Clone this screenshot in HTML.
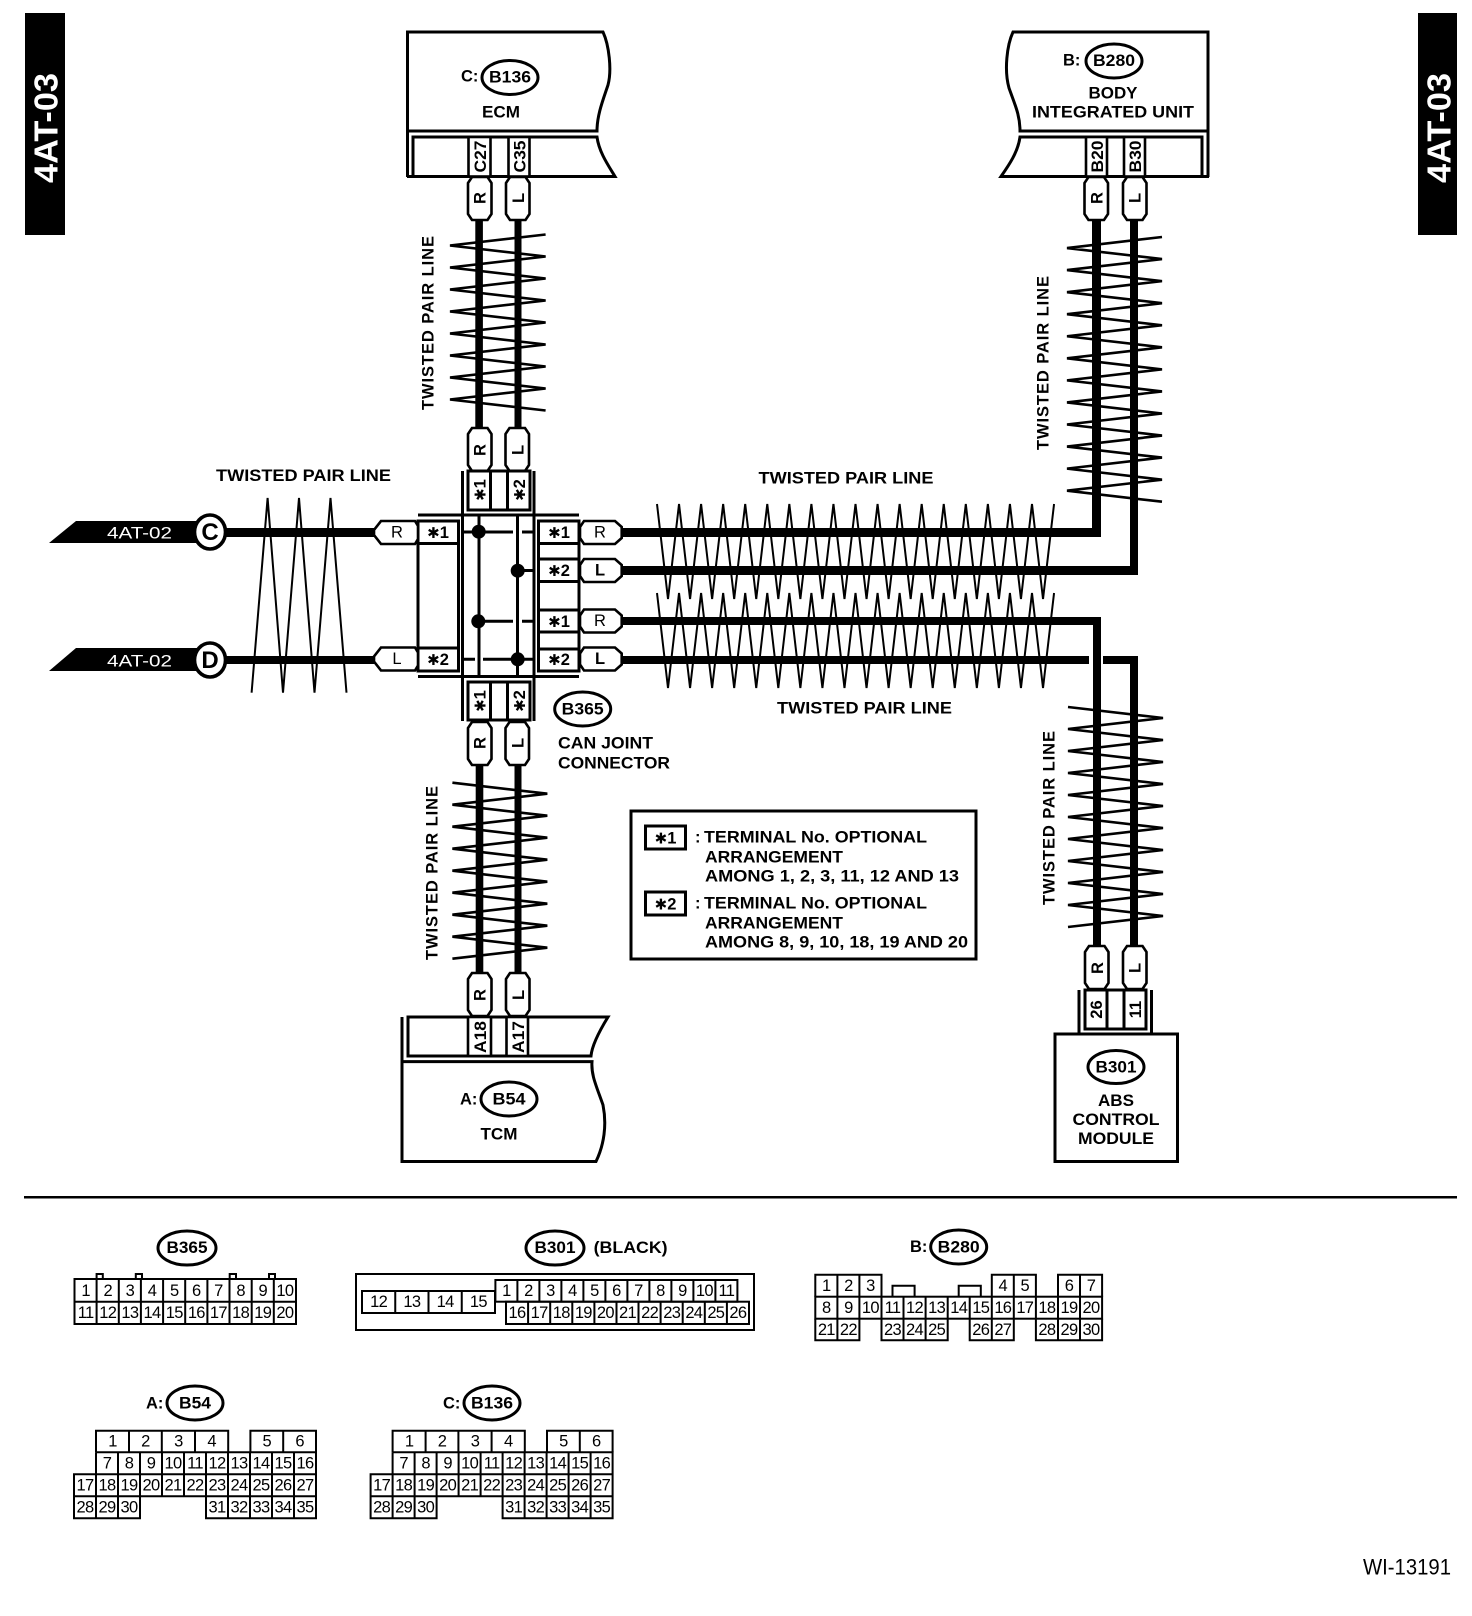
<!DOCTYPE html>
<html><head><meta charset="utf-8"><style>
html,body{margin:0;padding:0;background:#fff}
svg{display:block}
text{font-family:"Liberation Sans",sans-serif;font-weight:bold;font-size:16.5px;fill:#000;dominant-baseline:central}
.m{text-anchor:middle}
text.n{font-weight:normal;font-size:16.5px;text-anchor:middle;letter-spacing:-.7px;dominant-baseline:central}
.s{font-family:"DejaVu Sans",sans-serif;font-size:15px}
.ln{fill:none;stroke:#000;stroke-width:3}
.g{fill:none;stroke:#000;stroke-width:2}
.z{fill:none;stroke:#000;stroke-width:2.6}
.t{fill:none;stroke:#000;stroke-width:2}
.w{fill:#fff;stroke:#000;stroke-width:2.6}
.o{fill:#fff;stroke:#000;stroke-width:3}
</style></head><body>
<svg xmlns="http://www.w3.org/2000/svg" width="1472" height="1616" viewBox="0 0 1472 1616">
<defs>
<polygon id="pv" points="4,0 19.5,0 23.5,6 23.5,37 19.5,43 4,43 0,37 0,6" class="w"/>
<polygon id="pr" points="4,0 35,0 41.7,6 41.7,17 35,23 4,23 0,17 0,6" class="w"/>
<polygon id="pl" points="7,0 41,0 44,5 44,18 41,23 7,23 0,14 0,9" class="w"/>
<path id="hz" class="t" d="M657 0l11 95l11.03-95l11.03 95l11.03-95l11.03 95l11.03-95l11.03 95l11.03-95l11.03 95l11.03-95l11.03 95l11.03-95l11.03 95l11.03-95l11.03 95l11.03-95l11.03 95l11.03-95l11.03 95l11.03-95l11.03 95l11.03-95l11.03 95l11.03-95l11.03 95l11.03-95l11.03 95l11.03-95l11.03 95l11.03-95l11.03 95l11.03-95l11.03 95l11.03-95l11.03 95l11.03-95"/>
</defs>
<rect width="1472" height="1616" fill="#fff"/>

<!-- side tabs -->
<rect x="25" y="13" width="40" height="222" fill="#000"/>
<rect x="1418" y="13" width="39" height="222" fill="#000"/>
<text class="m" transform="rotate(-90 46 128)" x="46" y="128" style="fill:#fff;font-size:33px" textLength="110" lengthAdjust="spacingAndGlyphs">4AT-03</text>
<text class="m" transform="rotate(-90 1439 128)" x="1439" y="128" style="fill:#fff;font-size:33px" textLength="110" lengthAdjust="spacingAndGlyphs">4AT-03</text>

<!-- twisted zigzags -->
<path class="z" d="M545.6 234.5l-95.6 11l95.6 11l-95.6 11l95.6 11l-95.6 11l95.6 11l-95.6 11l95.6 11l-95.6 11l95.6 11l-95.6 11l95.6 11l-95.6 11l95.6 11l-95.6 11l95.6 11"/>
<path class="z" d="M1162 237l-95 11.03l95 11.03l-95 11.03l95 11.03l-95 11.03l95 11.03l-95 11.03l95 11.03l-95 11.03l95 11.03l-95 11.03l95 11.03l-95 11.03l95 11.03l-95 11.03l95 11.03l-95 11.03l95 11.03l-95 11.03l95 11.03l-95 11.03l95 11.03l-95 11.03l95 11.03"/>
<path class="z" d="M1068 707l95 11l-95 11l95 11l-95 11l95 11l-95 11l95 11l-95 11l95 11l-95 11l95 11l-95 11l95 11l-95 11l95 11l-95 11l95 11l-95 11l95 11l-95 11"/>
<path class="z" d="M452.4 782.7l94.9 11l-94.9 11l94.9 11l-94.9 11l94.9 11l-94.9 11l94.9 11l-94.9 11l94.9 11l-94.9 11l94.9 11l-94.9 11l94.9 11l-94.9 11l94.9 11l-94.9 11"/>
<path class="t" d="M251.6 692.7L267.6 498L283 692.7L299 498L314.5 692.7L330.5 498L346.5 692.7"/>
<use href="#hz" y="504"/>
<use href="#hz" y="593"/>

<!-- thick wires -->
<g fill="#000">
<rect x="475.3" y="218" width="7.6" height="211"/>
<rect x="514.5" y="218" width="7" height="211"/>
<rect x="475.7" y="763" width="7.6" height="211"/>
<rect x="514.5" y="763" width="7" height="211"/>
<rect x="224" y="528" width="152" height="9"/>
<rect x="224" y="656" width="152" height="8"/>
<rect x="620" y="528" width="481" height="9"/>
<rect x="620" y="566" width="518" height="9"/>
<rect x="620" y="617" width="481" height="8"/>
<rect x="620" y="656" width="469" height="8"/>
<rect x="1103" y="656" width="35" height="8"/>
<rect x="1092" y="218" width="9" height="319"/>
<rect x="1130" y="218" width="8" height="357"/>
<rect x="1093" y="617" width="8" height="331"/>
<rect x="1130" y="656" width="8" height="292"/>
</g>

<!-- ECM -->
<path class="o" d="M407.5 177V32H603C609 45 612 70 608 85C603 100 597 115 597 131H407.5Z"/>
<path class="ln" d="M407.5 131V177M413 176.5V137H597C599 152 608 165 615 176.5H407"/>
<text x="461" y="76.7">C:</text>
<ellipse cx="510" cy="77.5" rx="28" ry="17" class="o"/>
<text class="m" x="510" y="77.7" textLength="42" lengthAdjust="spacingAndGlyphs">B136</text>
<text class="m" x="501" y="112.7" textLength="38" lengthAdjust="spacingAndGlyphs">ECM</text>
<rect x="468.5" y="137" width="22" height="39.5" class="w"/>
<rect x="508.5" y="137" width="21" height="39.5" class="w"/>
<text class="m" transform="rotate(-90 479.5 156.5)" x="479.5" y="156.5" dy="1.5" textLength="32" lengthAdjust="spacingAndGlyphs">C27</text>
<text class="m" transform="rotate(-90 519 156.5)" x="519" y="156.5" dy="1.5" textLength="32" lengthAdjust="spacingAndGlyphs">C35</text>
<use href="#pv" x="468" y="177"/><use href="#pv" x="506" y="177"/>
<text class="m" transform="rotate(-90 479.5 198)" x="479.5" y="198" dy="1">R</text>
<text class="m" transform="rotate(-90 518 198)" x="518" y="198" dy="1">L</text>
<use href="#pv" x="468" y="428"/><use href="#pv" x="505.5" y="428"/>
<text class="m" transform="rotate(-90 479.5 450)" x="479.5" y="450" dy="1">R</text>
<text class="m" transform="rotate(-90 517.5 450)" x="517.5" y="450" dy="1">L</text>

<!-- BIU -->
<path class="o" d="M1208 177V32H1013C1007 45 1004 70 1009 88C1015 105 1020 115 1020 131H1208Z"/>
<path class="ln" d="M1208 131V177M1202 176.5V137H1020C1018 152 1009 165 1001 176.5H1209"/>
<text x="1063" y="60.7">B:</text>
<ellipse cx="1114" cy="61" rx="28" ry="17" class="o"/>
<text class="m" x="1114" y="61" textLength="42" lengthAdjust="spacingAndGlyphs">B280</text>
<text class="m" x="1113" y="93.7" textLength="49" lengthAdjust="spacingAndGlyphs">BODY</text>
<text class="m" x="1113" y="112.7" textLength="162" lengthAdjust="spacingAndGlyphs">INTEGRATED UNIT</text>
<rect x="1086" y="137" width="21" height="39.5" class="w"/>
<rect x="1124" y="137" width="21" height="39.5" class="w"/>
<text class="m" transform="rotate(-90 1096.5 156.5)" x="1096.5" y="156.5" dy="1.5" textLength="32" lengthAdjust="spacingAndGlyphs">B20</text>
<text class="m" transform="rotate(-90 1134.5 156.5)" x="1134.5" y="156.5" dy="1.5" textLength="32" lengthAdjust="spacingAndGlyphs">B30</text>
<use href="#pv" x="1084.5" y="177"/><use href="#pv" x="1123" y="177"/>
<text class="m" transform="rotate(-90 1096.5 198)" x="1096.5" y="198" dy="1">R</text>
<text class="m" transform="rotate(-90 1134.5 198)" x="1134.5" y="198" dy="1">L</text>

<!-- labels twisted -->
<text class="m" transform="rotate(-90 427 323)" x="427" y="323" dy="1.5" textLength="174">TWISTED PAIR LINE</text>
<text class="m" transform="rotate(-90 1042 363)" x="1042" y="363" dy="1.5" textLength="174">TWISTED PAIR LINE</text>
<text class="m" transform="rotate(-90 1048 818)" x="1048" y="818" dy="1.5" textLength="174">TWISTED PAIR LINE</text>
<text class="m" transform="rotate(-90 431 873)" x="431" y="873" dy="1.5" textLength="174">TWISTED PAIR LINE</text>
<text class="m" x="303.5" y="476" textLength="175" lengthAdjust="spacingAndGlyphs">TWISTED PAIR LINE</text>
<text class="m" x="846" y="478.5" textLength="175" lengthAdjust="spacingAndGlyphs">TWISTED PAIR LINE</text>
<text class="m" x="864.5" y="708.7" textLength="175" lengthAdjust="spacingAndGlyphs">TWISTED PAIR LINE</text>

<!-- left tags -->
<polygon points="49,543 76,521 197,521 197,543" fill="#000"/>
<polygon points="49,671 76,648 197,648 197,671" fill="#000"/>
<text class="m" x="139.5" y="533" style="fill:#fff;font-weight:normal;font-size:17px" textLength="65" lengthAdjust="spacingAndGlyphs">4AT-02</text>
<text class="m" x="139.5" y="661" style="fill:#fff;font-weight:normal;font-size:17px" textLength="65" lengthAdjust="spacingAndGlyphs">4AT-02</text>
<ellipse cx="210" cy="532" rx="15.5" ry="17" fill="#fff" stroke="#000" stroke-width="3.6"/>
<ellipse cx="210" cy="660" rx="15.5" ry="17" fill="#fff" stroke="#000" stroke-width="3.6"/>
<text class="m" x="210" y="532.5" style="font-size:24px">C</text>
<text class="m" x="210" y="660.5" style="font-size:24px">D</text>

<!-- joint: frame -->
<path class="ln" d="M462.5 471V721M534 471V721M418 515H579M418 676.5H579"/>
<g>
<rect x="468" y="471" width="62" height="39" class="ln"/>
<path class="ln" d="M490.5 471V510M507.5 471V510"/>
<rect x="468" y="682" width="62" height="38" class="ln"/>
<path class="ln" d="M490.5 682V720M507.5 682V720"/>
<rect x="418" y="521" width="40.5" height="150" class="ln"/>
<path class="ln" d="M418 543.5H458.5M418 648H458.5"/>
<rect x="538.5" y="521" width="40.5" height="150" class="ln"/>
<path class="ln" d="M538.5 543.5H579M538.5 559H579M538.5 581.5H579M538.5 610H579M538.5 632H579M538.5 649H579"/>
</g>
<path class="ln" d="M479 515V676M517.5 515V676M463 532H513M522 532H534M517 570.5H534M478 621.3H513M522 621.3H534M463 659.3H475M483 659.3H534"/>
<circle cx="478.7" cy="531.7" r="7" fill="#000"/>
<circle cx="517.7" cy="570.7" r="7" fill="#000"/>
<circle cx="478.3" cy="621.3" r="7" fill="#000"/>
<circle cx="517.7" cy="659.3" r="7" fill="#000"/>

<text class="m" transform="rotate(-90 479.5 490)" x="479.5" y="490" dy="1"><tspan class="s">✱</tspan>1</text>
<text class="m" transform="rotate(-90 519 490)" x="519" y="490" dy="1"><tspan class="s">✱</tspan>2</text>
<text class="m" transform="rotate(-90 479.5 701)" x="479.5" y="701" dy="1"><tspan class="s">✱</tspan>1</text>
<text class="m" transform="rotate(-90 519 701)" x="519" y="701" dy="1"><tspan class="s">✱</tspan>2</text>
<text class="m" x="438" y="533"><tspan class="s">✱</tspan>1</text>
<text class="m" x="438" y="660"><tspan class="s">✱</tspan>2</text>
<text class="m" x="559" y="533"><tspan class="s">✱</tspan>1</text>
<text class="m" x="559" y="571"><tspan class="s">✱</tspan>2</text>
<text class="m" x="559" y="622"><tspan class="s">✱</tspan>1</text>
<text class="m" x="559" y="660"><tspan class="s">✱</tspan>2</text>

<use href="#pl" x="374" y="521"/><use href="#pl" x="374" y="647.5"/>
<text class="m" x="397" y="532.5" style="font-weight:normal">R</text>
<text class="m" x="397" y="659" style="font-weight:normal">L</text>
<use href="#pr" x="580" y="521"/><use href="#pr" x="580" y="559"/><use href="#pr" x="580" y="609.5"/><use href="#pr" x="580" y="647.5"/>
<text class="m" x="600" y="532.5" style="font-weight:normal">R</text>
<text class="m" x="600" y="570.5">L</text>
<text class="m" x="600" y="621" style="font-weight:normal">R</text>
<text class="m" x="600" y="659">L</text>

<use href="#pv" x="468" y="722"/><use href="#pv" x="505.5" y="722"/>
<text class="m" transform="rotate(-90 479.5 743)" x="479.5" y="743" dy="1">R</text>
<text class="m" transform="rotate(-90 517.5 743)" x="517.5" y="743" dy="1">L</text>

<ellipse cx="582.7" cy="709" rx="28" ry="17" class="o"/>
<text class="m" x="582.7" y="709.5" textLength="42" lengthAdjust="spacingAndGlyphs">B365</text>
<text x="558" y="743.7" textLength="95" lengthAdjust="spacingAndGlyphs">CAN JOINT</text>
<text x="558" y="763.7" textLength="112" lengthAdjust="spacingAndGlyphs">CONNECTOR</text>

<!-- legend -->
<rect x="631" y="811" width="345" height="148" class="o"/>
<rect x="645.5" y="826" width="40" height="23" class="ln"/>
<rect x="645.5" y="892" width="40" height="23" class="ln"/>
<text class="m" x="665.5" y="838.5"><tspan class="s">✱</tspan>1</text>
<text class="m" x="665.5" y="904.5"><tspan class="s">✱</tspan>2</text>
<text x="695" y="837.7">:</text>
<text x="704" y="837.7" textLength="223" lengthAdjust="spacingAndGlyphs">TERMINAL No. OPTIONAL</text>
<text x="705" y="857.7" textLength="138" lengthAdjust="spacingAndGlyphs">ARRANGEMENT</text>
<text x="705" y="876.7" textLength="254" lengthAdjust="spacingAndGlyphs">AMONG 1, 2, 3, 11, 12 AND 13</text>
<text x="695" y="903.7">:</text>
<text x="704" y="903.7" textLength="223" lengthAdjust="spacingAndGlyphs">TERMINAL No. OPTIONAL</text>
<text x="705" y="923.7" textLength="138" lengthAdjust="spacingAndGlyphs">ARRANGEMENT</text>
<text x="705" y="942.7" textLength="263" lengthAdjust="spacingAndGlyphs">AMONG 8, 9, 10, 18, 19 AND 20</text>

<!-- TCM -->
<use href="#pv" x="468" y="973"/><use href="#pv" x="506" y="973"/>
<text class="m" transform="rotate(-90 479.5 995)" x="479.5" y="995" dy="1">R</text>
<text class="m" transform="rotate(-90 518 995)" x="518" y="995" dy="1">L</text>
<path class="ln" d="M408 1056V1017H608C600 1030 592 1045 591 1056ZM402 1017V1061.6"/>
<path class="o" d="M402 1161.5V1061.6H592C591 1075 596 1085 603 1105C607 1125 604 1145 596 1161.5Z"/>
<rect x="468" y="1017" width="23" height="39" class="w"/>
<rect x="506.5" y="1017" width="21.5" height="39" class="w"/>
<text class="m" transform="rotate(-90 479.5 1037)" x="479.5" y="1037" dy="1.5" textLength="32" lengthAdjust="spacingAndGlyphs">A18</text>
<text class="m" transform="rotate(-90 517.5 1037)" x="517.5" y="1037" dy="1.5" textLength="32" lengthAdjust="spacingAndGlyphs">A17</text>
<text x="460" y="1099.7">A:</text>
<ellipse cx="509" cy="1099" rx="28" ry="17" class="o"/>
<text class="m" x="509" y="1099.7" textLength="33" lengthAdjust="spacingAndGlyphs">B54</text>
<text class="m" x="499" y="1134.7" textLength="37" lengthAdjust="spacingAndGlyphs">TCM</text>

<!-- ABS -->
<use href="#pv" x="1085" y="946"/><use href="#pv" x="1123" y="946"/>
<text class="m" transform="rotate(-90 1097 968)" x="1097" y="968" dy="1">R</text>
<text class="m" transform="rotate(-90 1134.5 968)" x="1134.5" y="968" dy="1">L</text>
<path class="ln" d="M1079 990V1033M1151.5 990V1033"/>
<rect x="1085" y="990" width="61" height="39" class="ln"/>
<path class="ln" d="M1107 990V1029M1124 990V1029"/>
<text class="m" transform="rotate(-90 1096 1009.5)" x="1096" y="1009.5" dy="1">26</text>
<text class="m" transform="rotate(-90 1135 1009.5)" x="1135" y="1009.5" dy="1">11</text>
<rect x="1055" y="1034" width="122.5" height="127.5" class="o"/>
<ellipse cx="1116" cy="1067" rx="28" ry="16.5" class="o"/>
<text class="m" x="1116" y="1067.5" textLength="41" lengthAdjust="spacingAndGlyphs">B301</text>
<text class="m" x="1116" y="1101" textLength="36" lengthAdjust="spacingAndGlyphs">ABS</text>
<text class="m" x="1116" y="1120" textLength="87" lengthAdjust="spacingAndGlyphs">CONTROL</text>
<text class="m" x="1116" y="1139" textLength="76" lengthAdjust="spacingAndGlyphs">MODULE</text>

<!-- rule -->
<rect x="24" y="1196" width="1433" height="2.5" fill="#000"/>

<!-- B365 connector -->
<ellipse cx="187" cy="1248" rx="29" ry="17" class="o"/>
<text class="m" x="187" y="1248" textLength="41" lengthAdjust="spacingAndGlyphs">B365</text>
<path class="g" d="M96.6 1279V1274H102.8V1279M135.8 1279V1274H142V1279M229.7 1279V1274H236V1279M269 1279V1274H275V1279"/>
<rect x="74.5" y="1279" width="221.5" height="45" class="g"/>
<path class="g" d="M74.5 1301.7H296M96.6 1279V1324M118.8 1279V1324M140.9 1279V1324M163.1 1279V1324M185.2 1279V1324M207.4 1279V1324M229.5 1279V1324M251.7 1279V1324M273.8 1279V1324"/>
<g>
<text class="n" x="85.6" y="1291">1</text><text class="n" x="107.7" y="1291">2</text><text class="n" x="129.9" y="1291">3</text><text class="n" x="152" y="1291">4</text><text class="n" x="174.2" y="1291">5</text><text class="n" x="196.3" y="1291">6</text><text class="n" x="218.4" y="1291">7</text><text class="n" x="240.6" y="1291">8</text><text class="n" x="262.7" y="1291">9</text><text class="n" x="284.9" y="1291">10</text>
<text class="n" x="85.6" y="1313">11</text><text class="n" x="107.7" y="1313">12</text><text class="n" x="129.9" y="1313">13</text><text class="n" x="152" y="1313">14</text><text class="n" x="174.2" y="1313">15</text><text class="n" x="196.3" y="1313">16</text><text class="n" x="218.4" y="1313">17</text><text class="n" x="240.6" y="1313">18</text><text class="n" x="262.7" y="1313">19</text><text class="n" x="284.9" y="1313">20</text>
</g>

<!-- B301 connector -->
<ellipse cx="555" cy="1248" rx="29" ry="17" class="o"/>
<text class="m" x="555" y="1248" textLength="41" lengthAdjust="spacingAndGlyphs">B301</text>
<text x="593.6" y="1248" textLength="74" lengthAdjust="spacingAndGlyphs">(BLACK)</text>
<rect x="356" y="1274" width="398" height="56" class="g"/>
<rect x="362" y="1291" width="133" height="22" class="g"/>
<path class="g" d="M395.25 1291V1313M428.5 1291V1313M461.75 1291V1313"/>
<rect x="495.4" y="1280" width="242" height="21.7" class="g"/>
<path class="g" d="M517.4 1280V1301.7M539.4 1280V1301.7M561.4 1280V1301.7M583.4 1280V1301.7M605.4 1280V1301.7M627.4 1280V1301.7M649.4 1280V1301.7M671.4 1280V1301.7M693.4 1280V1301.7M715.4 1280V1301.7"/>
<rect x="506" y="1301.7" width="243" height="22.3" class="g"/>
<path class="g" d="M528.1 1301.7V1324M550.2 1301.7V1324M572.3 1301.7V1324M594.4 1301.7V1324M616.5 1301.7V1324M638.5 1301.7V1324M660.6 1301.7V1324M682.7 1301.7V1324M704.8 1301.7V1324M726.9 1301.7V1324"/>
<text class="n" x="378.6" y="1302">12</text><text class="n" x="411.9" y="1302">13</text><text class="n" x="445.1" y="1302">14</text><text class="n" x="478.4" y="1302">15</text>
<text class="n" x="506.4" y="1291">1</text><text class="n" x="528.4" y="1291">2</text><text class="n" x="550.4" y="1291">3</text><text class="n" x="572.4" y="1291">4</text><text class="n" x="594.4" y="1291">5</text><text class="n" x="616.4" y="1291">6</text><text class="n" x="638.4" y="1291">7</text><text class="n" x="660.4" y="1291">8</text><text class="n" x="682.4" y="1291">9</text><text class="n" x="704.4" y="1291">10</text><text class="n" x="726.4" y="1291">11</text>
<text class="n" x="517" y="1313">16</text><text class="n" x="539.1" y="1313">17</text><text class="n" x="561.2" y="1313">18</text><text class="n" x="583.3" y="1313">19</text><text class="n" x="605.4" y="1313">20</text><text class="n" x="627.5" y="1313">21</text><text class="n" x="649.6" y="1313">22</text><text class="n" x="671.7" y="1313">23</text><text class="n" x="693.8" y="1313">24</text><text class="n" x="715.8" y="1313">25</text><text class="n" x="737.9" y="1313">26</text>

<!-- B280 connector -->
<text x="910" y="1247">B:</text>
<ellipse cx="958.7" cy="1247" rx="28" ry="17" class="o"/>
<text class="m" x="958.7" y="1247.3" textLength="42" lengthAdjust="spacingAndGlyphs">B280</text>
<path class="g" d="M815.3 1296.7V1274.7H881.5V1296.7M837.4 1274.7V1296.7M859.4 1274.7V1296.7M991.8 1296.7V1274.7H1035.9V1296.7M1013.8 1274.7V1296.7M1058 1296.7V1274.7H1102.1V1296.7M1080 1274.7V1296.7M892.5 1296.7V1285.7H914.6V1296.7M958.7 1296.7V1285.7H980.8V1296.7"/>
<rect x="815.3" y="1296.7" width="286.8" height="22" class="g"/>
<path class="g" d="M837.4 1296.7V1318.7M859.4 1296.7V1318.7M881.5 1296.7V1318.7M903.5 1296.7V1318.7M925.6 1296.7V1318.7M947.7 1296.7V1318.7M969.7 1296.7V1318.7M991.8 1296.7V1318.7M1013.8 1296.7V1318.7M1035.9 1296.7V1318.7M1058 1296.7V1318.7M1080 1296.7V1318.7"/>
<path class="g" d="M815.3 1318.7V1340.3H859.4V1318.7M837.4 1318.7V1340.3M881.5 1318.7V1340.3H947.7V1318.7M903.5 1318.7V1340.3M925.6 1318.7V1340.3M969.7 1318.7V1340.3H1013.8V1318.7M991.8 1318.7V1340.3M1035.9 1318.7V1340.3H1102.1V1318.7M1058 1318.7V1340.3M1080 1318.7V1340.3"/>
<text class="n" x="826.3" y="1286">1</text><text class="n" x="848.4" y="1286">2</text><text class="n" x="870.4" y="1286">3</text><text class="n" x="1002.8" y="1286">4</text><text class="n" x="1024.8" y="1286">5</text><text class="n" x="1069" y="1286">6</text><text class="n" x="1091" y="1286">7</text>
<text class="n" x="826.3" y="1308">8</text><text class="n" x="848.4" y="1308">9</text><text class="n" x="870.4" y="1308">10</text><text class="n" x="892.5" y="1308">11</text><text class="n" x="914.5" y="1308">12</text><text class="n" x="936.6" y="1308">13</text><text class="n" x="958.7" y="1308">14</text><text class="n" x="980.7" y="1308">15</text><text class="n" x="1002.8" y="1308">16</text><text class="n" x="1024.8" y="1308">17</text><text class="n" x="1046.9" y="1308">18</text><text class="n" x="1069" y="1308">19</text><text class="n" x="1091" y="1308">20</text>
<text class="n" x="826.3" y="1330">21</text><text class="n" x="848.4" y="1330">22</text><text class="n" x="892.5" y="1330">23</text><text class="n" x="914.5" y="1330">24</text><text class="n" x="936.6" y="1330">25</text><text class="n" x="980.7" y="1330">26</text><text class="n" x="1002.8" y="1330">27</text><text class="n" x="1046.9" y="1330">28</text><text class="n" x="1069" y="1330">29</text><text class="n" x="1091" y="1330">30</text>

<!-- A: B54 connector -->
<text x="146" y="1403.3">A:</text>
<ellipse cx="195" cy="1403" rx="28" ry="17" class="o"/>
<text class="m" x="195" y="1403.3" textLength="32" lengthAdjust="spacingAndGlyphs">B54</text>
<g>
<path class="g" d="M96 1452.3V1430.7H228.2V1452.3M129 1430.7V1452.3M161.8 1430.7V1452.3M195 1430.7V1452.3M250.4 1452.3V1430.7H316V1452.3M283.2 1430.7V1452.3"/>
<path class="g" d="M96 1452.3H316V1518.3H206V1496.3H140V1518.3H74V1474.3H316M74 1496.3H140M206 1496.3H316M96 1452.3V1518.3M118 1452.3V1518.3M140 1452.3V1496.3M162 1452.3V1496.3M184 1452.3V1496.3M206 1452.3V1496.3M228 1452.3V1518.3M250 1452.3V1518.3M272 1452.3V1518.3M294 1452.3V1518.3"/>
<text class="n" x="112.5" y="1441.5">1</text><text class="n" x="145.4" y="1441.5">2</text><text class="n" x="178.4" y="1441.5">3</text><text class="n" x="211.6" y="1441.5">4</text><text class="n" x="266.8" y="1441.5">5</text><text class="n" x="299.6" y="1441.5">6</text>
<text class="n" x="107" y="1463.3">7</text><text class="n" x="129" y="1463.3">8</text><text class="n" x="151" y="1463.3">9</text><text class="n" x="173" y="1463.3">10</text><text class="n" x="195" y="1463.3">11</text><text class="n" x="217" y="1463.3">12</text><text class="n" x="239" y="1463.3">13</text><text class="n" x="261" y="1463.3">14</text><text class="n" x="283" y="1463.3">15</text><text class="n" x="305" y="1463.3">16</text>
<text class="n" x="85" y="1485.3">17</text><text class="n" x="107" y="1485.3">18</text><text class="n" x="129" y="1485.3">19</text><text class="n" x="151" y="1485.3">20</text><text class="n" x="173" y="1485.3">21</text><text class="n" x="195" y="1485.3">22</text><text class="n" x="217" y="1485.3">23</text><text class="n" x="239" y="1485.3">24</text><text class="n" x="261" y="1485.3">25</text><text class="n" x="283" y="1485.3">26</text><text class="n" x="305" y="1485.3">27</text>
<text class="n" x="85" y="1507.3">28</text><text class="n" x="107" y="1507.3">29</text><text class="n" x="129" y="1507.3">30</text><text class="n" x="217" y="1507.3">31</text><text class="n" x="239" y="1507.3">32</text><text class="n" x="261" y="1507.3">33</text><text class="n" x="283" y="1507.3">34</text><text class="n" x="305" y="1507.3">35</text>
</g>

<!-- C: B136 connector -->
<text x="443" y="1403.3">C:</text>
<ellipse cx="492" cy="1403" rx="28" ry="17" class="o"/>
<text class="m" x="492" y="1403.3" textLength="42" lengthAdjust="spacingAndGlyphs">B136</text>
<g transform="translate(296.6 0)">
<path class="g" d="M96 1452.3V1430.7H228.2V1452.3M129 1430.7V1452.3M161.8 1430.7V1452.3M195 1430.7V1452.3M250.4 1452.3V1430.7H316V1452.3M283.2 1430.7V1452.3"/>
<path class="g" d="M96 1452.3H316V1518.3H206V1496.3H140V1518.3H74V1474.3H316M74 1496.3H140M206 1496.3H316M96 1452.3V1518.3M118 1452.3V1518.3M140 1452.3V1496.3M162 1452.3V1496.3M184 1452.3V1496.3M206 1452.3V1496.3M228 1452.3V1518.3M250 1452.3V1518.3M272 1452.3V1518.3M294 1452.3V1518.3"/>
<text class="n" x="112.5" y="1441.5">1</text><text class="n" x="145.4" y="1441.5">2</text><text class="n" x="178.4" y="1441.5">3</text><text class="n" x="211.6" y="1441.5">4</text><text class="n" x="266.8" y="1441.5">5</text><text class="n" x="299.6" y="1441.5">6</text>
<text class="n" x="107" y="1463.3">7</text><text class="n" x="129" y="1463.3">8</text><text class="n" x="151" y="1463.3">9</text><text class="n" x="173" y="1463.3">10</text><text class="n" x="195" y="1463.3">11</text><text class="n" x="217" y="1463.3">12</text><text class="n" x="239" y="1463.3">13</text><text class="n" x="261" y="1463.3">14</text><text class="n" x="283" y="1463.3">15</text><text class="n" x="305" y="1463.3">16</text>
<text class="n" x="85" y="1485.3">17</text><text class="n" x="107" y="1485.3">18</text><text class="n" x="129" y="1485.3">19</text><text class="n" x="151" y="1485.3">20</text><text class="n" x="173" y="1485.3">21</text><text class="n" x="195" y="1485.3">22</text><text class="n" x="217" y="1485.3">23</text><text class="n" x="239" y="1485.3">24</text><text class="n" x="261" y="1485.3">25</text><text class="n" x="283" y="1485.3">26</text><text class="n" x="305" y="1485.3">27</text>
<text class="n" x="85" y="1507.3">28</text><text class="n" x="107" y="1507.3">29</text><text class="n" x="129" y="1507.3">30</text><text class="n" x="217" y="1507.3">31</text><text class="n" x="239" y="1507.3">32</text><text class="n" x="261" y="1507.3">33</text><text class="n" x="283" y="1507.3">34</text><text class="n" x="305" y="1507.3">35</text>
</g>

<text x="1363" y="1567" style="font-weight:normal;font-size:22px" textLength="88" lengthAdjust="spacingAndGlyphs">WI-13191</text>
</svg>
</body></html>
